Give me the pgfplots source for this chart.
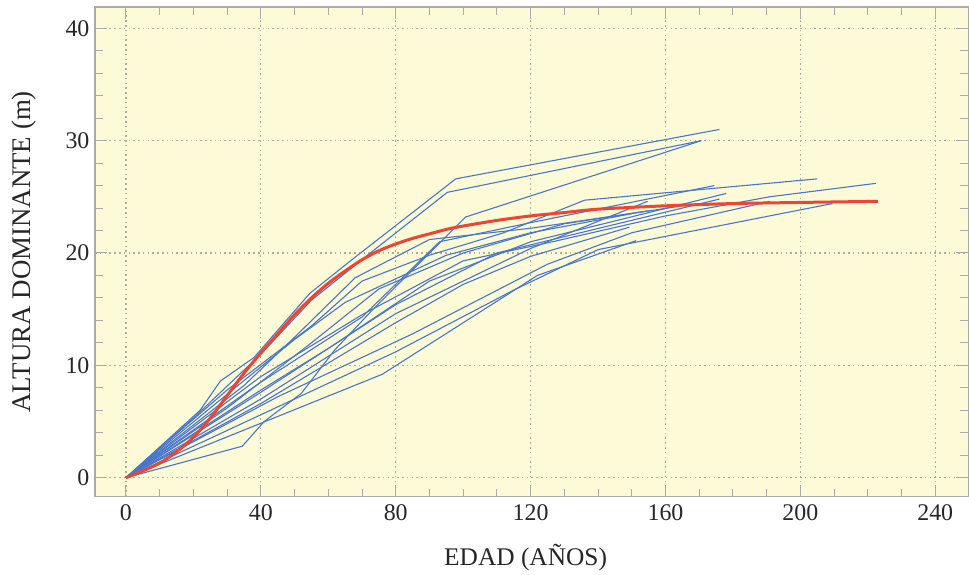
\documentclass[border=0pt]{standalone}
\usepackage{pgfplots}
\pgfplotsset{compat=1.18}
\usepackage{fontspec}
\setmainfont{Liberation Serif}
\definecolor{bgyel}{RGB}{253,250,216}
\definecolor{gridc}{RGB}{180,172,152}
\definecolor{axc}{RGB}{170,170,170}
\definecolor{blu}{RGB}{72,118,205}
\definecolor{redc}{RGB}{238,68,52}
\pgfplotsset{bl/.style={draw=blu, line width=1.1bp, line join=round, mark=none}}
\begin{document}
\begin{tikzpicture}
\begin{axis}[
  scale only axis,
  width=874bp, height=490bp,
  xmin=-9.2, xmax=249.8, ymin=-1.69, ymax=41.9,
  axis background/.style={fill=bgyel},
  axis line style={draw=axc, line width=1.4bp},
  xtick={0,40,...,240}, ytick={0,10,...,40},
  minor x tick num=3, minor y tick num=4,
  tick align=inside,
  major tick length=12bp, minor tick length=8bp,
  every tick/.style={draw=axc, line width=1bp},
  grid=major,
  major grid style={draw=gridc, line width=1.1bp, dash pattern=on 1.6bp off 3.2bp},
  /pgf/number format/assume math mode=true,
  ticklabel style={font=\fontsize{24}{28}\selectfont, text=black!85},
  xticklabel style={yshift=-4bp},
  yticklabel style={xshift=-2bp},
  xlabel={EDAD (AÑOS)},
  ylabel={ALTURA DOMINANTE (m)},
  xlabel style={font=\fontsize{25.5}{30}\selectfont, text=black!85, at={(axis description cs:0.5,0)}, anchor=base, yshift=-69bp, xshift=-6bp},
  ylabel style={font=\fontsize{27}{30}\selectfont, text=black!85, at={(axis description cs:0,0.5)}, anchor=base, yshift=64bp},
]
\addplot[bl] coordinates {(0,0)(22,6.0)(28,8.6)(38,10.7)(54.5,16.4)(67,19.4)(97.8,26.6)(176,31.0)};
\addplot[bl] coordinates {(0,0)(20,5.3)(40,11.0)(55,15.8)(75,20.6)(95.3,25.4)(170.6,30.0)};
\addplot[bl] coordinates {(0,0)(34.5,2.8)(41,5.0)(52,7.5)(62,11.4)(73,14.9)(100.7,23.2)(170.6,30.0)};
\addplot[bl] coordinates {(0,0)(30,7.8)(55,13.5)(70,17.5)(90,19.8)(112,21.8)(136,24.7)(205,26.6)};
\addplot[bl] coordinates {(0,0)(40,9.0)(70,14.5)(100,19.3)(126.5,21.0)(160,23.3)(190.8,25.0)(222.4,26.2)};
\addplot[bl] coordinates {(0,0)(40,8.5)(70,14.3)(93,21.0)(120,22.7)(174.5,26.0)};
\addplot[bl] coordinates {(0,0)(40,7.6)(80,15.4)(110,20.0)(176,24.8)};
\addplot[bl] coordinates {(0,0)(40,7.0)(80,14.6)(120,20.4)(154.7,24.6)};
\addplot[bl] coordinates {(0,0)(40,6.6)(80,13.8)(100,17.2)(120,19.7)(149.3,22.3)};
\addplot[bl] coordinates {(0,0)(76,9.2)(122,18.0)(151.3,21.1)};
\addplot[bl] coordinates {(0,0)(50,7.0)(80,11.2)(115,16.7)(140,20.3)(209.5,24.4)};
\addplot[bl] coordinates {(0,0)(45,7.2)(85,12.8)(125,19.0)(150,21.8)(191,24.6)};
\addplot[bl] coordinates {(0,0)(25,6.2)(50,12.3)(65,15.6)(95,19.8)(120,21.8)(150,23.5)};
\addplot[bl] coordinates {(0,0)(30,6.2)(55,12.0)(75,16.8)(100,20.0)(130,22.6)(165,24.2)};
\addplot[bl] coordinates {(0,0)(35,8.2)(50,12.5)(68,17.8)(90,21.2)(120,22.2)(156,23.8)};
\addplot[bl] coordinates {(0,0)(40,7.8)(60,11.5)(90,17.5)(120,21.0)(178,25.3)};
\addplot[draw=redc, line width=3bp, smooth, tension=0.5, mark=none] coordinates {(0,0)(5,0.6)(10,1.3)(15,2.3)(20,3.6)(25,5.3)(30,7.3)(35,9.3)(40,11.1)(45,12.8)(50,14.5)(55,16.0)(60,17.3)(65,18.4)(70,19.4)(75,20.2)(80,20.8)(85,21.3)(90,21.7)(95,22.1)(100,22.4)(110,22.9)(120,23.3)(130,23.6)(140,23.9)(160,24.2)(180,24.4)(200,24.5)(223,24.6)};
\end{axis}
\path ([yshift=7bp]current axis.north);
\path ([xshift=-95bp,yshift=-77bp]current axis.south west);
\end{tikzpicture}
\end{document}
